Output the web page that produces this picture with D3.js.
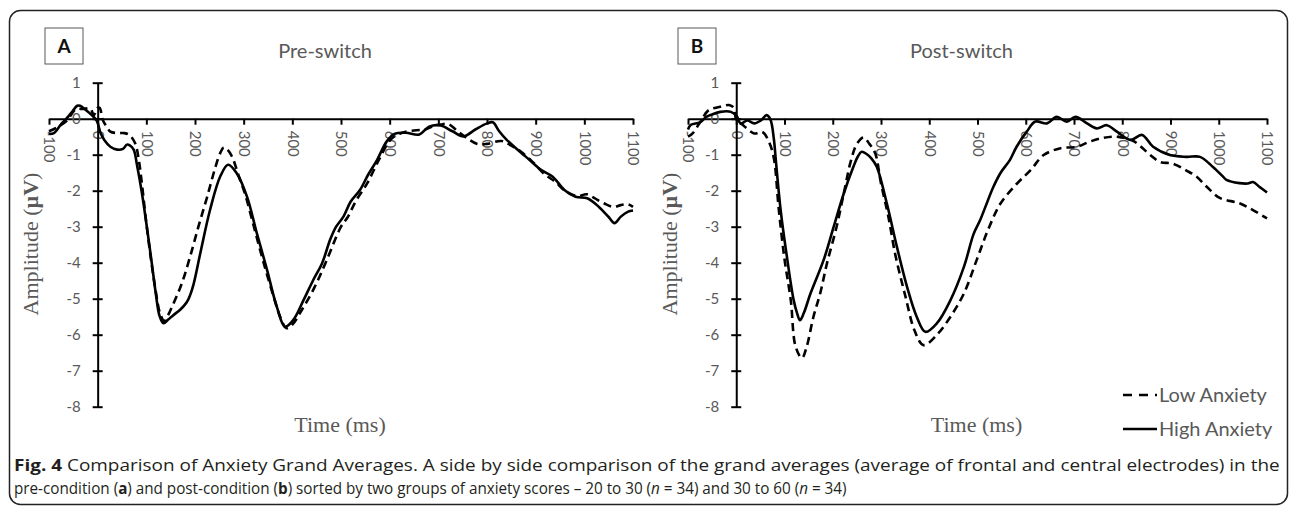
<!DOCTYPE html>
<html>
<head>
<meta charset="utf-8">
<script src="https://cdn.jsdelivr.net/npm/d3@7"></script>
<style>
  body { margin: 0; background: #fff; }
  svg { display: block; }
</style>
</head>
<body>
<div id="chart"></div>
<script>
const width = 1290;
const height = 513;

// [time (ms), amplitude (µV)]
const preLow = [[-100,-0.35],[-85,-0.25],[-63,-0.05],[-50,0.2],[-43,0.27],[-30,0.27],[-15,0.28],[-8,0.1],[0,0.3],[4,0.3],[11,-0.05],[20,-0.25],[26,-0.36],[40,-0.4],[55,-0.4],[65,-0.45],[77,-0.68],[84,-1.1],[90,-1.7],[100,-2.9],[110,-3.95],[120,-4.85],[128,-5.4],[137,-5.62],[145,-5.45],[153,-5.22],[173,-4.57],[190,-3.83],[207,-3.0],[225,-2.17],[242,-1.34],[252,-0.95],[259,-0.8],[266,-0.85],[276,-1.05],[290,-1.6],[303,-2.1],[322,-3.05],[342,-4.05],[364,-5.05],[375,-5.5],[388,-5.82],[400,-5.72],[420,-5.3],[445,-4.7],[470,-3.95],[500,-3.0],[514,-2.73],[530,-2.3],[554,-1.79],[578,-1.14],[602,-0.58],[620,-0.42],[633,-0.36],[655,-0.32],[673,-0.3],[690,-0.2],[705,-0.16],[720,-0.15],[740,-0.35],[760,-0.55],[780,-0.7],[800,-0.7],[830,-0.62],[850,-0.75],[870,-0.92],[890,-1.15],[919,-1.55],[940,-1.75],[960,-2.0],[985,-2.15],[1005,-2.1],[1020,-2.2],[1040,-2.35],[1060,-2.45],[1075,-2.4],[1090,-2.38],[1100,-2.45]];

const preHigh = [[-100,-0.42],[-90,-0.4],[-75,-0.15],[-63,0.02],[-52,0.2],[-42,0.36],[-36,0.36],[-25,0.25],[-12,0.1],[-2,-0.05],[6,-0.4],[14,-0.6],[26,-0.78],[40,-0.86],[52,-0.84],[60,-0.72],[66,-0.74],[74,-0.86],[81,-1.3],[91,-2.07],[101,-3.0],[111,-3.99],[120,-4.91],[127,-5.47],[135,-5.68],[145,-5.58],[156,-5.45],[170,-5.3],[183,-5.1],[190,-4.9],[197,-4.6],[211,-3.73],[231,-2.53],[252,-1.6],[268,-1.28],[286,-1.52],[307,-2.17],[327,-3.18],[348,-4.2],[368,-5.22],[385,-5.78],[402,-5.59],[423,-5.04],[443,-4.48],[461,-4.02],[478,-3.35],[490,-3.0],[505,-2.72],[520,-2.3],[539,-1.98],[556,-1.55],[574,-1.15],[594,-0.63],[610,-0.42],[633,-0.39],[661,-0.44],[681,-0.22],[705,-0.19],[729,-0.35],[752,-0.49],[776,-0.3],[800,-0.13],[812,-0.1],[825,-0.35],[840,-0.58],[863,-0.86],[887,-1.14],[911,-1.42],[935,-1.61],[959,-1.98],[982,-2.17],[1006,-2.21],[1030,-2.45],[1050,-2.73],[1062,-2.9],[1075,-2.72],[1090,-2.58],[1100,-2.55]];

const postLow = [[-100,-0.5],[-90,-0.4],[-75,-0.1],[-57,0.24],[-33,0.33],[-15,0.38],[-5,0.3],[0,-0.02],[16,-0.2],[37,-0.41],[54,-0.37],[68,-0.65],[78,-1.1],[88,-2.5],[100,-3.9],[113,-5.04],[123,-6.33],[136,-6.65],[146,-6.33],[160,-5.5],[174,-4.85],[188,-4.02],[208,-3.0],[223,-2.07],[237,-1.2],[250,-0.7],[264,-0.52],[276,-0.7],[288,-0.96],[300,-1.8],[315,-2.7],[330,-3.8],[350,-4.9],[370,-5.9],[388,-6.29],[416,-6.0],[444,-5.5],[472,-4.85],[499,-3.9],[523,-3.05],[548,-2.35],[582,-1.8],[610,-1.43],[637,-1.01],[672,-0.82],[706,-0.78],[730,-0.65],[755,-0.55],[786,-0.5],[823,-0.62],[858,-1.01],[878,-1.2],[905,-1.25],[933,-1.44],[953,-1.6],[975,-1.89],[1002,-2.2],[1043,-2.35],[1071,-2.54],[1100,-2.77]];

const postHigh = [[-100,-0.3],[-94,-0.17],[-75,-0.1],[-62,0.05],[-50,0.12],[-33,0.19],[-11,0.19],[1,0.07],[9,-0.13],[23,-0.05],[37,-0.13],[51,-0.05],[63,0.1],[71,-0.03],[78,-0.57],[82,-1.15],[92,-2.54],[106,-3.93],[119,-5.04],[126,-5.4],[132,-5.6],[140,-5.4],[154,-4.85],[181,-3.93],[202,-3.0],[223,-2.07],[243,-1.33],[252,-1.05],[260,-0.92],[270,-0.98],[280,-1.1],[291,-1.33],[312,-2.35],[333,-3.56],[354,-4.67],[374,-5.5],[392,-5.92],[416,-5.68],[444,-5.04],[472,-4.11],[492,-3.2],[506,-2.8],[533,-1.89],[548,-1.5],[567,-1.15],[581,-0.78],[602,-0.36],[620,-0.08],[644,-0.13],[664,0.05],[685,-0.08],[703,0.05],[727,-0.13],[747,-0.27],[768,-0.18],[789,-0.36],[817,-0.59],[841,-0.45],[864,-0.78],[899,-1.01],[933,-1.06],[961,-1.06],[988,-1.34],[1009,-1.61],[1016,-1.7],[1043,-1.79],[1060,-1.8],[1071,-1.76],[1085,-1.9],[1100,-2.05]];

const xTicks = [-100, 0, 100, 200, 300, 400, 500, 600, 700, 800, 900, 1000, 1100];
const yTicks = [1, 0, -1, -2, -3, -4, -5, -6, -7, -8];
const seriesNames = ["Low Anxiety", "High Anxiety"];

const gray = "#595959";
const labelFont = "Lato, 'Open Sans', sans-serif";
const serifFont = "'Liberation Serif', 'DejaVu Serif', serif";

const svg = d3.select("#chart")
  .append("svg")
  .attr("width", width)
  .attr("height", height);

// outer frame
svg.append("rect")
  .attr("x", 9.5).attr("y", 10.5)
  .attr("width", 1278).attr("height", 494)
  .attr("rx", 11)
  .attr("fill", "none")
  .attr("stroke", "#222")
  .attr("stroke-width", 1.5);

function drawPanel(letter, title, low, high, x0, x1, letterX) {
  const g = svg.append("g");

  const xScale = d3.scaleLinear().domain([-100, 1100]).range([x0, x1]);
  const yScale = d3.scaleLinear().domain([-8, 1]).range([406.7, 82.7]);

  // letter box
  g.append("rect")
    .attr("x", letterX).attr("y", 28)
    .attr("width", 38).attr("height", 36)
    .attr("fill", "#fff")
    .attr("stroke", gray)
    .attr("stroke-width", 1);
  g.append("text")
    .attr("x", letterX + 19).attr("y", 53)
    .attr("text-anchor", "middle")
    .style("font-family", labelFont)
    .style("font-weight", "bold")
    .style("font-size", "19px")
    .attr("fill", "#111")
    .text(letter);

  g.append("text")
    .attr("x", (x0 + x1) / 2 - 16).attr("y", 58)
    .attr("text-anchor", "middle")
    .style("font-family", labelFont)
    .style("font-size", "20px")
    .attr("fill", gray)
    .text(title);

  // x axis through zero
  const xAxis = d3.axisBottom(xScale)
    .tickValues(xTicks)
    .tickFormat(d => String(d))
    .tickSizeInner(6)
    .tickSizeOuter(0)
    .tickPadding(0);

  const gx = g.append("g")
    .attr("transform", `translate(0, ${yScale(0)})`)
    .call(xAxis);
  gx.select(".domain").attr("stroke", "#000").attr("stroke-width", 2);
  gx.selectAll(".tick line").attr("stroke", "#000").attr("stroke-width", 2);
  gx.selectAll(".tick text")
    .attr("transform", "rotate(90)")
    .attr("x", 12).attr("y", 0).attr("dy", "0.35em")
    .style("text-anchor", "start")
    .style("font-family", labelFont)
    .style("font-size", "15px")
    .attr("fill", gray);

  // y axis at time zero
  const yAxis = d3.axisLeft(yScale)
    .tickValues(yTicks)
    .tickFormat(d => String(d))
    .tickSizeInner(5)
    .tickSizeOuter(0)
    .tickPadding(12);

  const gy = g.append("g")
    .attr("transform", `translate(${xScale(0)}, 0)`)
    .call(yAxis);
  gy.select(".domain").attr("stroke", "#000").attr("stroke-width", 2);
  gy.selectAll(".tick line").attr("x1", 5).attr("x2", -5).attr("stroke", "#000").attr("stroke-width", 2);
  gy.selectAll(".tick text")
    .style("font-family", labelFont)
    .style("font-size", "15px")
    .attr("fill", gray);

  // axis titles
  const yTitle = g.append("text")
    .attr("transform", `translate(${xScale(-100) - 11}, 244) rotate(-90)`)
    .attr("text-anchor", "middle")
    .style("font-family", serifFont)
    .style("font-size", "22px")
    .attr("fill", gray);
  yTitle.append("tspan").text("Amplitude (");
  yTitle.append("tspan").style("font-weight", "bold").text("µV");
  yTitle.append("tspan").text(")");

  g.append("text")
    .attr("x", xScale(500) - 1).attr("y", 432)
    .attr("text-anchor", "middle")
    .style("font-family", serifFont)
    .style("font-size", "22px")
    .attr("fill", gray)
    .text("Time (ms)");

  const line = d3.line()
    .x(d => xScale(d[0]))
    .y(d => yScale(d[1]))
    .curve(d3.curveCatmullRom.alpha(0.5));

  g.append("path")
    .datum(low)
    .attr("fill", "none")
    .attr("stroke", "#000")
    .attr("stroke-width", 2.6)
    .attr("stroke-dasharray", "8,5")
    .attr("d", line);

  g.append("path")
    .datum(high)
    .attr("fill", "none")
    .attr("stroke", "#000")
    .attr("stroke-width", 2.6)
    .attr("d", line);
}

drawPanel("A", "Pre-switch", preLow, preHigh, 49, 633, 45);
drawPanel("B", "Post-switch", postLow, postHigh, 688, 1267, 678);

// legend
const legend = svg.append("g");
seriesNames.forEach((name, i) => {
  const y = 395 + i * 34;
  legend.append("line")
    .attr("x1", 1123).attr("x2", 1157)
    .attr("y1", y).attr("y2", y)
    .attr("stroke", "#000")
    .attr("stroke-width", 2.6)
    .attr("stroke-dasharray", i === 0 ? "9,7" : null);
  legend.append("text")
    .attr("x", 1159).attr("y", y + 7)
    .style("font-family", labelFont)
    .style("font-size", "20px")
    .attr("fill", gray)
    .text(name);
});

// caption: each line is squeezed horizontally to the width it has in the figure
const capFont = "'Open Sans', 'Noto Sans', sans-serif";
function captionLine(y, targetWidth, parts) {
  const t = svg.append("text")
    .attr("x", 0).attr("y", 0)
    .style("font-family", capFont)
    .style("font-size", "16px")
    .attr("fill", "#231f20");
  parts.forEach(p => {
    const s = t.append("tspan").text(p.text);
    if (p.bold) s.style("font-weight", "bold");
    if (p.italic) s.style("font-style", "italic");
  });
  const len = t.node().getComputedTextLength();
  t.attr("transform", `translate(14, ${y}) scale(${targetWidth / len}, 1)`);
}

captionLine(471, 1267, [
  { text: "Fig. 4", bold: true },
  { text: " Comparison of Anxiety Grand Averages. A side by side comparison of the grand averages (average of frontal and central electrodes) in the" }
]);
captionLine(494, 833, [
  { text: "pre-condition (" },
  { text: "a", bold: true },
  { text: ") and post-condition (" },
  { text: "b", bold: true },
  { text: ") sorted by two groups of anxiety scores – 20 to 30 (" },
  { text: "n", italic: true },
  { text: " = 34) and 30 to 60 (" },
  { text: "n", italic: true },
  { text: " = 34)" }
]);
</script>
</body>
</html>
